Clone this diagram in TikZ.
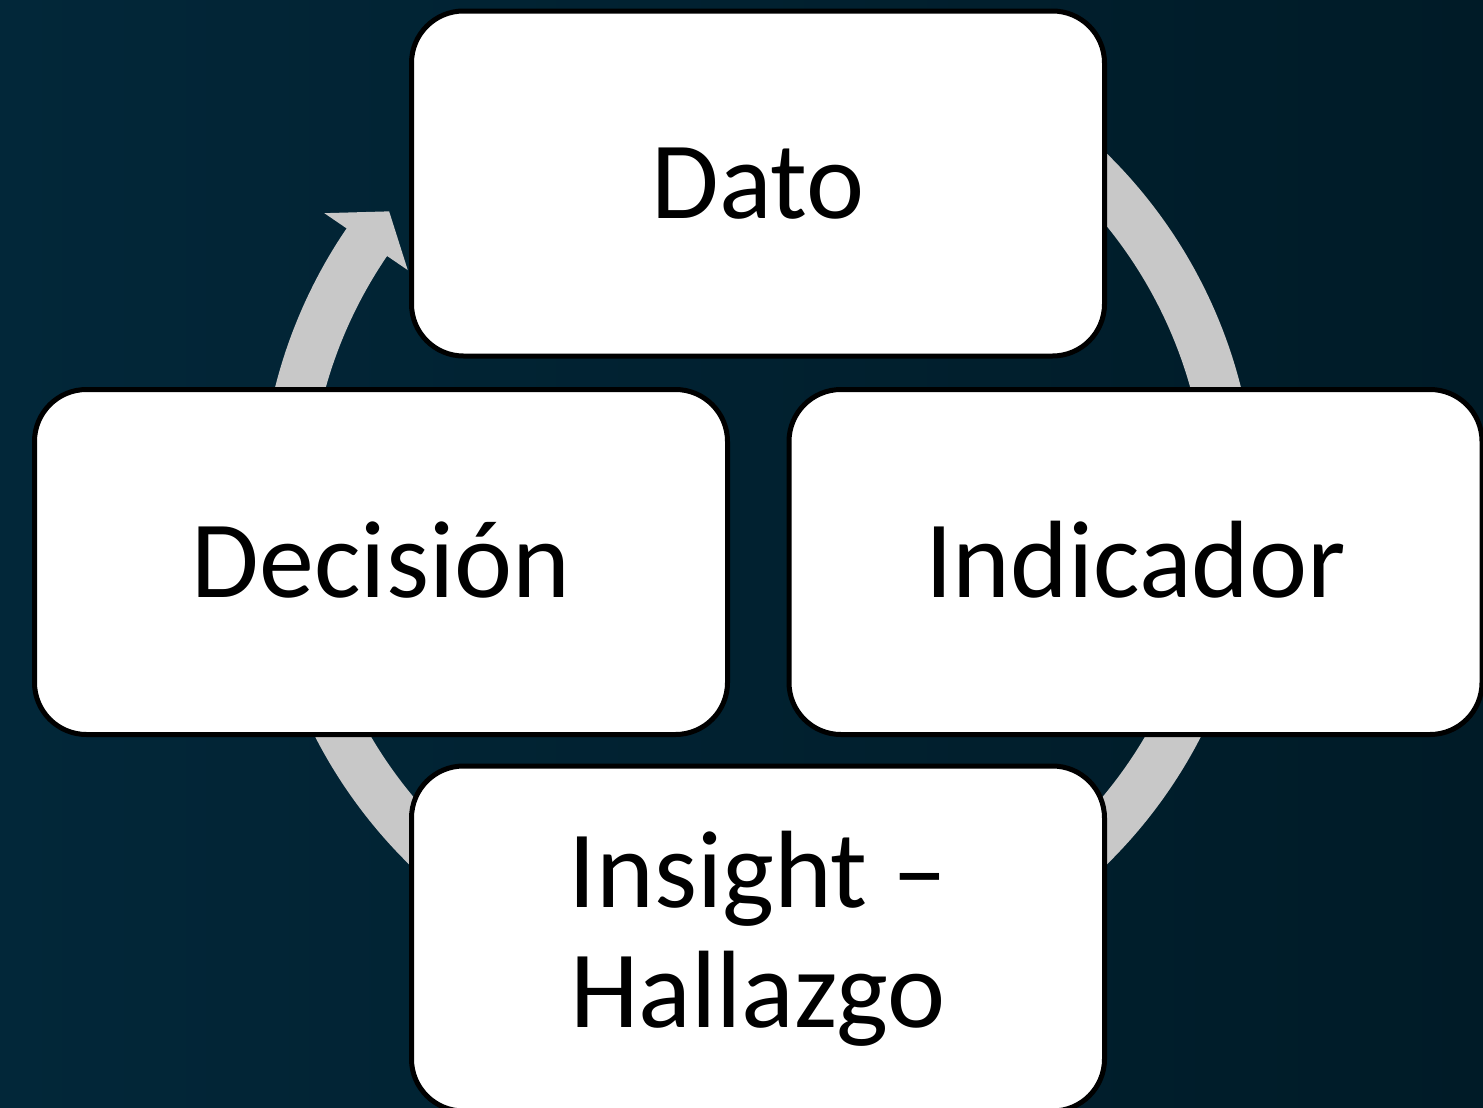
\documentclass[tikz,border=0pt]{standalone}
\usepackage{fontspec}
\setmainfont{Carlito}
\definecolor{ringgray}{RGB}{200,200,200}
\definecolor{bgleft}{RGB}{2,39,57}
\definecolor{bgright}{RGB}{0,27,39}
\begin{document}
\begin{tikzpicture}[x=0.5pt,y=-0.5pt,
  box/.style={draw=black, line width=2.5pt, fill=white, rounded corners=26pt,
    minimum width=346.5pt, minimum height=172.5pt, inner sep=0pt,
    font=\fontsize{55pt}{60pt}\selectfont, text=black},
  oneline/.style={text height=35pt, text depth=0pt},
  ring/.style={draw=ringgray, line width=24.5pt}]
\useasboundingbox (0,0) rectangle (1483,1108);
\shade[left color=bgleft, right color=bgright] (0,0) rectangle (1483,1108);
\coordinate (C) at (758,509);
% ring segments
\draw[ring] (C) ++(75:236.75pt) arc[start angle=75, end angle=5, radius=236.75pt];
\draw[ring] (C) ++(-20:236.75pt) arc[start angle=-20, end angle=-60, radius=236.75pt];
\draw[ring] (C) ++(-120:236.75pt) arc[start angle=-120, end angle=-160, radius=236.75pt];
\draw[ring] (C) ++(170:236.75pt) arc[start angle=170, end angle=145.5, radius=236.75pt];
% arrow head
\path (C) ++(145.7:212pt) coordinate (hb1);
\path (C) ++(145.7:262.5pt) coordinate (hb2);
\path (C) ++(141.1:237pt) coordinate (ht);
\fill[ringgray] (hb1) -- (hb2) -- (ht) -- cycle;
% boxes
\node[box, oneline] (dato) at (758,183.5) {Dato};
\node[box, oneline] (decision) at (381,562) {Decisión};
\node[box, oneline] (indicador) at (1135.5,562) {Indicador};
\node[box] (insight) at (758,938.5)
  {\raisebox{-2.5pt}[\height][\depth]{\begin{tabular}{@{}c@{}}Insight –\\Hallazgo\end{tabular}}};
\end{tikzpicture}
\end{document}
